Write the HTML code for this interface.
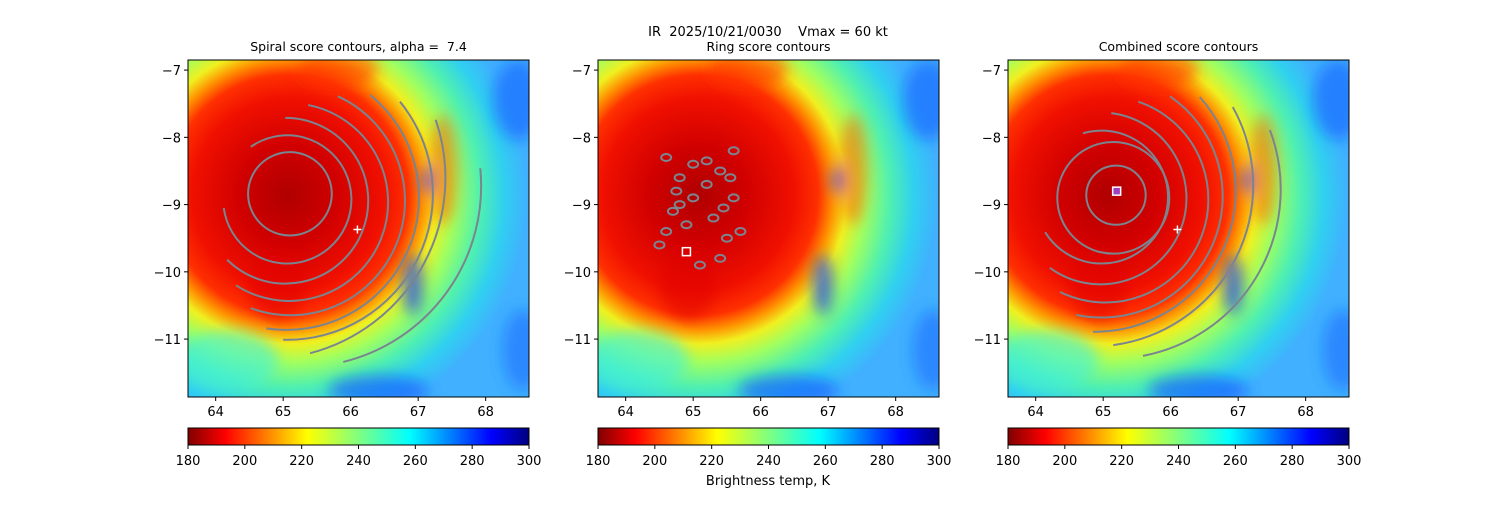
<!DOCTYPE html>
<html><head><meta charset="utf-8"><style>
body{margin:0;background:#fff;font-family:"Liberation Sans","DejaVu Sans",sans-serif}
svg text{font-family:"DejaVu Sans","Liberation Sans",sans-serif;fill:#000;white-space:pre}
</style></head><body>
<svg id="fig" width="1500" height="500" xmlns="http://www.w3.org/2000/svg">
<defs>
<linearGradient id="jetr" x1="0" x2="1" y1="0" y2="0">
<stop offset="0" stop-color="#800000"/><stop offset="0.11" stop-color="#ff0000"/><stop offset="0.35" stop-color="#ffff00"/><stop offset="0.5" stop-color="#80ff80"/><stop offset="0.65" stop-color="#00ffff"/><stop offset="0.89" stop-color="#0000ff"/><stop offset="1" stop-color="#000080"/>
</linearGradient>
<filter id="bl"><feGaussianBlur stdDeviation="7"/></filter>
</defs>
<text x="768" y="36" text-anchor="middle" font-size="13">IR  2025/10/21/0030    Vmax = 60 kt</text>
<text x="768" y="485" text-anchor="middle" font-size="13">Brightness temp, K</text>
</svg>
<script>
const xTicks=[64,65,66,67,68];
const yTicks=[-7,-8,-9,-10,-11];
const cbTicks=[180,200,220,240,260,280,300];
const titles=["Spiral score contours, alpha =  7.4","Ring score contours","Combined score contours"];
// spiral panel contours (lon/lat)
const spTopLon=[64.52,65.03,65.37,65.81,66.29,66.73,67.26,67.92];
const spTopLat=[-8.14,-7.71,-7.52,-7.39,-7.37,-7.47,-7.74,-8.46];
const spRightLon=[66.00,66.26,66.55,66.78,66.97,67.15,67.29,67.81];
const spRightLat=[-8.78,-8.93,-9.08,-9.23,-9.30,-9.38,-9.38,-9.53];
const spBotLon=[64.12,64.17,64.30,64.52,64.75,65.00,65.40,65.89];
const spBotLat=[-9.05,-9.82,-10.20,-10.54,-10.84,-11.01,-11.21,-11.34];
const spCircle=[65.10,-8.84,0.62];
// combined panel contours
const cbTopLon=[64.70,65.12,65.52,65.99,66.43,66.92,67.47];
const cbTopLat=[-7.94,-7.64,-7.47,-7.39,-7.40,-7.55,-7.89];
const cbRightLon=[65.96,66.23,66.55,66.75,66.92,67.15,67.63];
const cbRightLat=[-8.93,-9.01,-9.08,-9.15,-9.23,-9.30,-8.78];
const cbBotLon=[64.14,64.21,64.36,64.60,64.85,65.15,65.59];
const cbBotLat=[-9.41,-9.94,-10.30,-10.64,-10.89,-11.09,-11.25];
const cbCircles=[[65.19,-8.86,0.44],[65.15,-8.90,0.83]];
const ringBlobsX=[64.6,64.8,65.0,65.2,65.4,65.6,64.7,64.9,65.3,65.5,65.7,64.5,64.8,65.1,65.4,65.0,65.6,64.6,65.2,65.45,64.75,65.55];
const ringBlobsY=[-8.3,-8.6,-8.4,-8.7,-8.5,-8.9,-9.1,-9.3,-9.2,-9.5,-9.4,-9.6,-9.0,-9.9,-9.8,-8.9,-8.2,-9.4,-8.35,-9.05,-8.8,-8.6];
const centerPlus=[66.1,-9.37];
const NS="http://www.w3.org/2000/svg";
const svg=document.getElementById('fig');
const lefts=[188,598,1008];
const W=341,T=60,H=337;
function mk(t,a,p){const e=document.createElementNS(NS,t);for(const k in a)e.setAttribute(k,a[k]);(p||svg).appendChild(e);return e;}
function arcPath(p1,p2,p3){
 const [ax,ay]=p1,[bx,by]=p2,[cx,cy]=p3;
 const d=2*(ax*(by-cy)+bx*(cy-ay)+cx*(ay-by));
 const ux=((ax*ax+ay*ay)*(by-cy)+(bx*bx+by*by)*(cy-ay)+(cx*cx+cy*cy)*(ay-by))/d;
 const uy=((ax*ax+ay*ay)*(cx-bx)+(bx*bx+by*by)*(ax-cx)+(cx*cx+cy*cy)*(bx-ax))/d;
 const r=Math.hypot(ax-ux,ay-uy);
 const s1=(cx-ax)*(by-ay)-(cy-ay)*(bx-ax);
 const s2=(cx-ax)*(uy-ay)-(cy-ay)*(ux-ax);
 const large=(s1*s2>0)?1:0;
 return `M${ax},${ay} A${r},${r} 0 ${large},1 ${cx},${cy}`;
}
lefts.forEach((L,i)=>{
 const sx=v=>L+(v-63.59)*67.5, sy=v=>T+(-6.85-v)*67.25;
 const g=mk('g',{});
 
 
 const cp=mk('clipPath',{id:'cp'+i},g);mk('rect',{x:L,y:T,width:W,height:H},cp);
 const rg=mk('radialGradient',{id:'rg'+i,gradientUnits:'userSpaceOnUse',cx:L+100,cy:T+135,r:240},g);
 [[0,'#b00000'],[0.2,'#d00000'],[0.4,'#f01000'],[0.5,'#ff3000'],[0.56,'#ff9000'],[0.62,'#f0f020'],[0.7,'#a0ff60'],[0.8,'#50f0b0'],[0.9,'#30d0f0'],[1,'#40b0ff']].forEach(s=>mk('stop',{offset:s[0],'stop-color':s[1]},rg));
 const img=mk('g',{'clip-path':'url(#cp'+i+')'},g);
 mk('rect',{x:L,y:T,width:W,height:H,fill:'url(#rg'+i+')'},img);
 const bf=mk('g',{filter:'url(#bl)'},img);
 mk('ellipse',{cx:L+240,cy:T+120,rx:6,ry:14,fill:'#1050ff',opacity:0.8},bf);
 mk('ellipse',{cx:L+225,cy:T+225,rx:10,ry:30,fill:'#1040ff',opacity:0.7},bf);
 mk('ellipse',{cx:L+255,cy:T+110,rx:14,ry:55,fill:'#ff5000',opacity:0.5},bf);
 mk('ellipse',{cx:L+330,cy:T+40,rx:25,ry:40,fill:'#1060ff',opacity:0.6},bf);
 mk('ellipse',{cx:L+335,cy:T+290,rx:20,ry:40,fill:'#1060ff',opacity:0.5},bf);
 mk('ellipse',{cx:L+190,cy:T+330,rx:50,ry:15,fill:'#1050ff',opacity:0.6},bf);
 mk('ellipse',{cx:L+40,cy:T+300,rx:50,ry:30,fill:'#40f0e0',opacity:0.6},bf);
 mk('ellipse',{cx:L+150,cy:T+10,rx:40,ry:18,fill:'#ff3000',opacity:0.6},bf);
 mk('ellipse',{cx:L+90,cy:T+225,rx:28,ry:35,fill:'#e00000',opacity:0.5},bf);
 const P=(lon,lat)=>[sx(lon),sy(lat)];
 const drawArcs=(tl,tt,rl,rt,bl,bt)=>{tl.forEach((_,k)=>{
   const p=mk('path',{d:arcPath(P(tl[k],tt[k]),P(rl[k],rt[k]),P(bl[k],bt[k])),fill:'none',stroke:'#7a8590','stroke-width':2},img);
   
   
 });};
 const circ=(c)=>{const e=mk('ellipse',{cx:sx(c[0]),cy:sy(c[1]),rx:c[2]*67.5,ry:c[2]*67.25,fill:'none',stroke:'#7a8590','stroke-width':2},img);
   
   };
 if(i===0){circ(spCircle);drawArcs(spTopLon,spTopLat,spRightLon,spRightLat,spBotLon,spBotLat);}
 if(i===2){cbCircles.forEach(circ);drawArcs(cbTopLon,cbTopLat,cbRightLon,cbRightLat,cbBotLon,cbBotLat);}
 if(i===1){
  ringBlobsX.forEach((x,k)=>{
   const c=mk('ellipse',{cx:sx(x),cy:sy(ringBlobsY[k]),rx:5,ry:3.5,fill:'none',stroke:'#7a8590','stroke-width':2},img);
   
   
  });
  mk('rect',{x:sx(64.9)-4,y:sy(-9.7)-4,width:8,height:8,fill:'none',stroke:'#fff','stroke-width':1.5},img);
 }
 if(i!==1){
  const px=sx(centerPlus[0]),py=sy(centerPlus[1]);
  mk('path',{d:`M${px-4},${py}h8M${px},${py-4}v8`,stroke:'#fff','stroke-width':1.5},img);
 }
 if(i===2){mk('rect',{x:sx(65.2)-4,y:sy(-8.8)-4,width:8,height:8,fill:'#a040c0',stroke:'#fff','stroke-width':1.5},img);}
 mk('rect',{x:L,y:T,width:W,height:H,fill:'none',stroke:'#000','stroke-width':1},g);
 const tt=mk('text',{x:L+W/2,y:51,'text-anchor':'middle','font-size':12.5},g);tt.textContent=titles[i];
 
 
 xTicks.forEach(v=>{const x=sx(v);mk('line',{x1:x,x2:x,y1:T+H,y2:T+H+4,stroke:'#000'},g);const t=mk('text',{x:x,y:T+H+19,'text-anchor':'middle','font-size':13},g);t.textContent=v;});
 yTicks.forEach(v=>{const y=sy(v);mk('line',{x1:L-4,x2:L,y1:y,y2:y,stroke:'#000'},g);const t=mk('text',{x:L-7,y:y+5,'text-anchor':'end','font-size':13},g);t.textContent='\u2212'+Math.abs(v);});
 const cb=mk('rect',{x:L,y:428,width:W,height:17,fill:'url(#jetr)',stroke:'#000','stroke-width':1},g);
 
 
 cbTicks.forEach(v=>{const x=L+(v-180)/120*W;mk('line',{x1:x,x2:x,y1:445,y2:449,stroke:'#000'},g);const t=mk('text',{x:x,y:465,'text-anchor':'middle','font-size':13},g);t.textContent=v;});
});
</script>
</body></html>
